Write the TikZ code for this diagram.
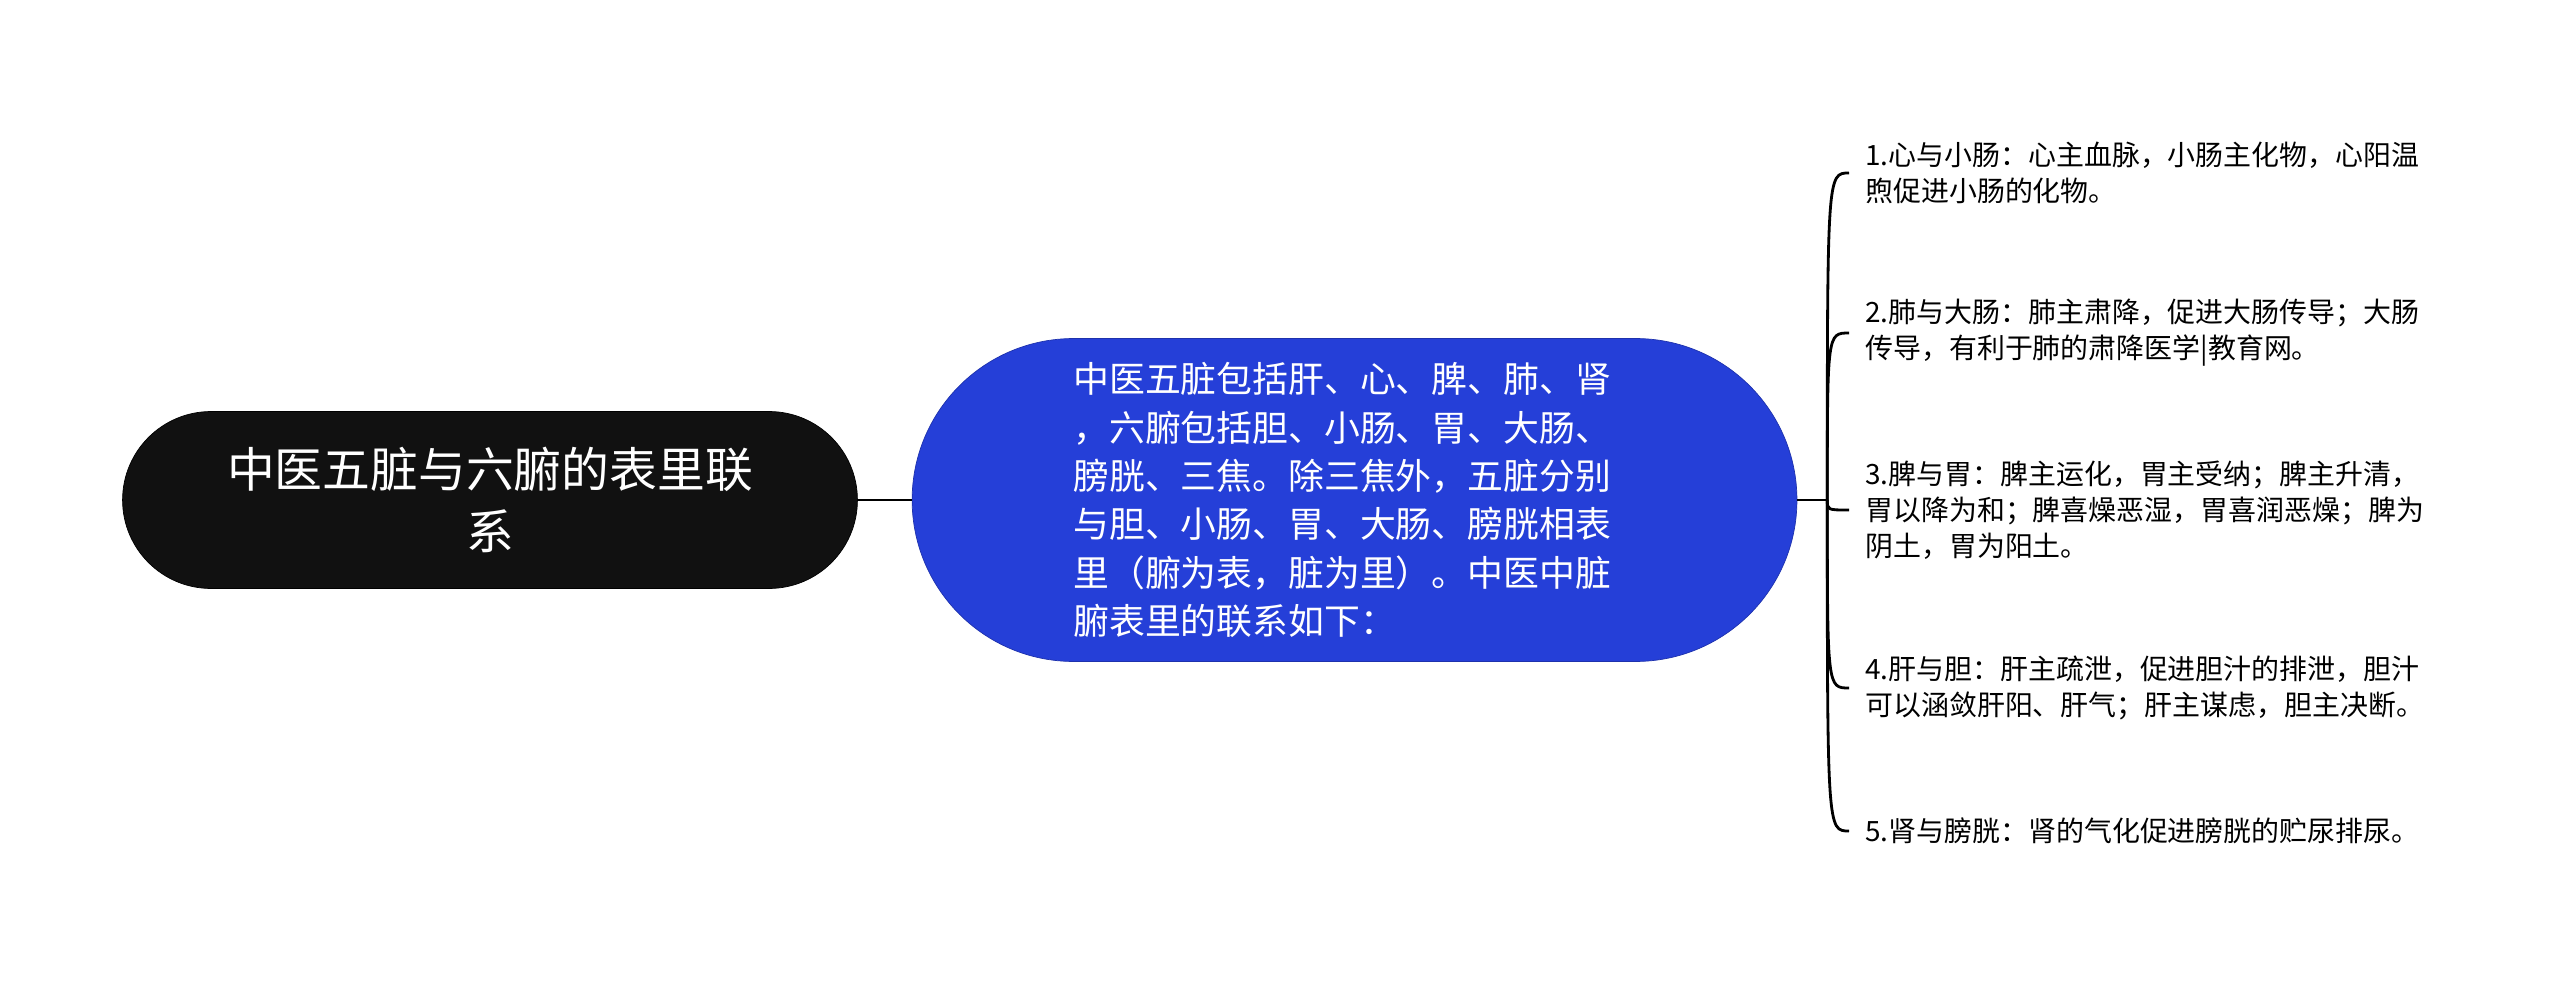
\documentclass[tikz,border=0pt]{standalone}
\usepackage{fontspec}
\setmainfont{Noto Sans CJK SC}
\usepackage{xcolor}
\usepackage{tikz}
\usetikzlibrary{positioning, calc}
\definecolor{MapBlack}{RGB}{17,17,17}
\definecolor{MapBlue}{RGB}{37,63,216}
\tikzset{
    rootnode/.style={
        draw=black, fill=MapBlack, text=white, rounded corners=1.77cm,
        minimum width=14.7cm, minimum height=3.54cm, align=center,
        font=\fontsize{27.2pt}{35pt}\selectfont
    },
    topicnode/.style={
        draw=MapBlue!80!black, fill=MapBlue, text=white, rounded corners=3.23cm,
        minimum width=17.7cm, minimum height=6.46cm, text width=11.25cm, align=left,
        font=\fontsize{20.4pt}{27.5pt}\selectfont
    },
    leafnode/.style={
        anchor=west, align=left, inner xsep=0.32cm, inner ysep=0pt,
        font=\fontsize{15.9pt}{20.4pt}\selectfont
    },
    link/.style={
        line width=1.6pt, black
    }
}
\begin{document}
\begin{tikzpicture}[x=0.02cm, y=-0.02cm]
    \useasboundingbox (0,0) rectangle (2560,983);
    \node[rootnode] (root) at (490,500) {中医五脏与六腑的表里联\\系};
    \node[topicnode, right=1.08cm of root] (topic) {中医五脏包括肝、心、脾、肺、肾\\，六腑包括胆、小肠、胃、大肠、\\膀胱、三焦。除三焦外，五脏分别\\与胆、小肠、胃、大肠、膀胱相表\\里（腑为表，脏为里）。中医中脏\\腑表里的联系如下：};
    \coordinate[right=0.6cm of topic] (jn);
    \node[leafnode] (l1) at (1849,173) {1.心与小肠：心主血脉，小肠主化物，心阳温\\煦促进小肠的化物。};
    \node[leafnode] (l2) at (1849,333) {2.肺与大肠：肺主肃降，促进大肠传导；大肠\\传导，有利于肺的肃降医学|教育网。};
    \node[leafnode] (l3) at (1849,510) {3.脾与胃：脾主运化，胃主受纳；脾主升清，\\胃以降为和；脾喜燥恶湿，胃喜润恶燥；脾为\\阴土，胃为阳土。};
    \node[leafnode] (l4) at (1849,688) {4.肝与胆：肝主疏泄，促进胆汁的排泄，胆汁\\可以涵敛肝阳、肝气；肝主谋虑，胆主决断。};
    \node[leafnode] (l5) at (1849,831) {5.肾与膀胱：肾的气化促进膀胱的贮尿排尿。};
    \draw[link] (root) -- (topic);
    \draw[link] (topic) -- (jn);
    \draw[link] (jn) .. controls (jn |- l1.west) .. (l1.west);
    \draw[link] (jn) .. controls (jn |- l2.west) .. (l2.west);
    \draw[link] (jn) .. controls (jn |- l3.west) .. (l3.west);
    \draw[link] (jn) .. controls (jn |- l4.west) .. (l4.west);
    \draw[link] (jn) .. controls (jn |- l5.west) .. (l5.west);
\end{tikzpicture}
\end{document}
